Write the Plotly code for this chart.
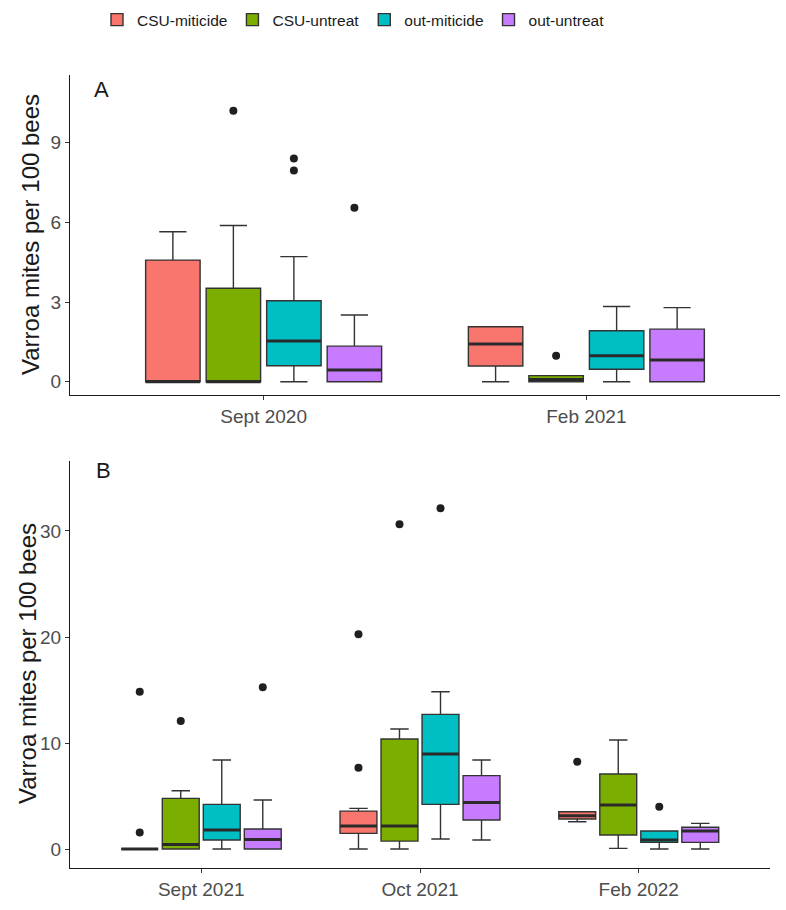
import plotly.graph_objects as go

treatments = ["CSU-miticide", "CSU-untreat", "out-miticide", "out-untreat"]
colors = ["#F8766D", "#7CAE00", "#00BFC4", "#C77CFF"]

# Panel A
dates_a = ["Sept 2020", "Feb 2021"]
q1_a = [[0, 0.59], [0, 0], [0.60, 0.47], [0, 0]]
med_a = [[0, 1.42], [0, 0.08], [1.53, 0.98], [0.44, 0.82]]
q3_a = [[4.58, 2.07], [3.52, 0.23], [3.05, 1.92], [1.34, 1.98]]
lf_a = [[0, 0], [0, 0], [0, 0], [0, 0]]
uf_a = [[5.65, 2.07], [5.88, 0.23], [4.71, 2.83], [2.51, 2.79]]
out_a = [[[], []], [[10.2], [0.98]], [[8.41, 7.95], []], [[6.55], []]]

# Panel B
dates_b = ["Sept 2021", "Oct 2021", "Feb 2022"]
q1_b = [[0, 1.48, 2.83], [0, 0.75, 1.32], [0.85, 4.21, 0.63], [0, 2.74, 0.63]]
med_b = [[0, 2.17, 3.14], [0.44, 2.17, 4.15], [1.79, 8.96, 0.85], [0.91, 4.4, 1.70]]
q3_b = [[0, 3.58, 3.52], [4.78, 10.38, 7.08], [4.21, 12.7, 1.70], [1.89, 6.92, 2.05]]
lf_b = [[0, 0, 2.58], [0, 0, 0.06], [0, 0.94, 0], [0, 0.85, 0]]
uf_b = [[0, 3.84, 3.52], [5.5, 11.32, 10.28], [8.4, 14.84, 1.70], [4.62, 8.4, 2.42]]
out_b = [[[14.84, 1.57], [20.25, 7.67], [8.24]], [[12.08], [30.63], []],
         [[], [32.14], [3.99]], [[15.25], [], []]]

W, H = 786, 910
FONT = "Liberation Sans, Arial, sans-serif"

fig = go.Figure()


def add_panel(dates, q1, med, q3, lf, uf, out, xa, ya, show, agroup):
    for i, name in enumerate(treatments):
        # sample list per box: the median (inside the box, never drawn) plus the outliers
        samples = [[med[i][j]] + list(out[i][j]) for j in range(len(dates))]
        fig.add_trace(go.Box(
            name=name, x=dates, y=samples, q1=q1[i], median=med[i], q3=q3[i],
            lowerfence=lf[i], upperfence=uf[i],
            boxpoints="outliers", jitter=0, pointpos=0,
            marker=dict(color="#1f1f1f", size=8, line=dict(width=0)),
            fillcolor=colors[i], line=dict(color="#333333", width=1.4),
            alignmentgroup=agroup, offsetgroup=name, legendgroup=name, showlegend=show,
            xaxis=xa, yaxis=ya, hoverinfo="skip",
        ))
    for i, name in enumerate(treatments):
        samples = [[med[i][j]] for j in range(len(dates))]
        fig.add_trace(go.Box(
            name=name, x=dates, y=samples, q1=med[i], median=med[i], q3=med[i],
            lowerfence=med[i], upperfence=med[i], boxpoints=False,
            fillcolor="rgba(0,0,0,0)", line=dict(color="#2a2a2a", width=3),
            alignmentgroup=agroup, offsetgroup=name, legendgroup=name, showlegend=False,
            xaxis=xa, yaxis=ya, hoverinfo="skip",
        ))


add_panel(dates_a, q1_a, med_a, q3_a, lf_a, uf_a, out_a, "x", "y", True, "A")
add_panel(dates_b, q1_b, med_b, q3_b, lf_b, uf_b, out_b, "x2", "y2", False, "B")

axis_common = dict(showgrid=False, zeroline=False, showline=True, linecolor="#1a1a1a",
                   linewidth=1.3, ticks="outside", ticklen=4, tickcolor="#333333",
                   tickwidth=1.1, tickfont=dict(family=FONT, size=19, color="#4d4d4d"))

fig.update_layout(
    width=W, height=H, margin=dict(l=0, r=0, t=0, b=0),
    paper_bgcolor="white", plot_bgcolor="white",
    boxmode="group", boxgap=0.25, boxgroupgap=0.1,
    font=dict(family=FONT),
    xaxis=dict(domain=[70 / W, 780 / W], anchor="y", type="category",
               categoryorder="array", categoryarray=dates_a, range=[-0.6, 1.6],
               **axis_common),
    yaxis=dict(domain=[1 - 395 / H, 1 - 75 / H], anchor="x", range=[-0.5, 11.55],
               tickvals=[0, 3, 6, 9], **axis_common),
    xaxis2=dict(domain=[70 / W, 770 / W], anchor="y2", type="category",
                categoryorder="array", categoryarray=dates_b, range=[-0.6, 2.6],
                **axis_common),
    yaxis2=dict(domain=[1 - 867.7 / H, 1 - 461 / H], anchor="x2", range=[-1.76, 36.6],
                tickvals=[0, 10, 20, 30], **axis_common),
    legend=dict(orientation="h", x=97 / W, xanchor="left", y=1 - 20 / H, yanchor="middle",
                font=dict(family=FONT, size=15.5, color="#1a1a1a"), itemwidth=30,
                bgcolor="rgba(0,0,0,0)"),
    showlegend=True,
)

ytitle = "Varroa mites per 100 bees"
fig.add_annotation(text=ytitle, x=31 / W, y=1 - 235 / H, xref="paper", yref="paper",
                   textangle=-90, showarrow=False, xanchor="center", yanchor="middle",
                   font=dict(family=FONT, size=24, color="#1a1a1a"))
fig.add_annotation(text=ytitle, x=27 / W, y=1 - 664 / H, xref="paper", yref="paper",
                   textangle=-90, showarrow=False, xanchor="center", yanchor="middle",
                   font=dict(family=FONT, size=24, color="#1a1a1a"))
fig.add_annotation(text="A", x=101 / W, y=1 - 90 / H, xref="paper", yref="paper",
                   showarrow=False, xanchor="center", yanchor="middle",
                   font=dict(family=FONT, size=22, color="#1a1a1a"))
fig.add_annotation(text="B", x=103 / W, y=1 - 470 / H, xref="paper", yref="paper",
                   showarrow=False, xanchor="center", yanchor="middle",
                   font=dict(family=FONT, size=22, color="#1a1a1a"))

fig.write_html("out.html", config={"displayModeBar": False},
               post_script="document.body.style.margin='0';")
